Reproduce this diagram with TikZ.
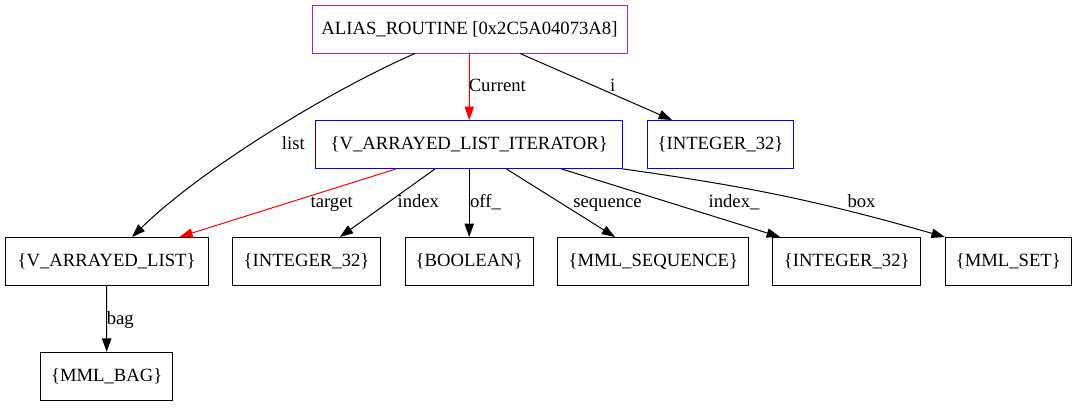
\documentclass[tikz,border=0pt]{standalone}
\usepackage{fontspec}
\setmainfont{Liberation Serif}
\usetikzlibrary{arrows.meta}
\definecolor{gvpurple}{HTML}{A020F0}

\begin{document}
\begin{tikzpicture}[x=0.75pt,y=-0.75pt,
    font=\fontsize{14pt}{16pt}\selectfont,
    cls/.style={draw,line width=0.75pt,minimum height=36pt,inner sep=0pt},
    edge/.style={line width=0.75pt,-{Triangle[length=10pt,width=7pt]}},
    lbl/.style={anchor=base,inner sep=0pt}]
  \useasboundingbox (0,0) rectangle (1077,407);

  \node [cls,color=gvpurple,text=black,minimum width=236.25pt] (alias) at (469.5,29) {ALIAS\_ROUTINE [0x2C5A04073A8]};
  \node [cls,color=blue,text=black,minimum width=230.25pt] (iter) at (469.2,144.5) {\{V\_ARRAYED\_LIST\_ITERATOR\}};
  \node [cls,color=blue,text=black,minimum width=109.5pt] (inti) at (720.5,144.5) {\{INTEGER\_32\}};

  \node [cls,minimum width=152.25pt] (vlist) at (106.6,261.5) {\{V\_ARRAYED\_LIST\}};
  \node [cls,minimum width=111pt] (intidx) at (306.5,261.5) {\{INTEGER\_32\}};
  \node [cls,minimum width=96pt] (bool) at (469.2,261.5) {\{BOOLEAN\}};
  \node [cls,minimum width=143.25pt] (seq) at (653.3,261.5) {\{MML\_SEQUENCE\}};
  \node [cls,minimum width=111pt] (intidxb) at (846.7,261.5) {\{INTEGER\_32\}};
  \node [cls,minimum width=94.5pt] (set) at (1008.3,261.5) {\{MML\_SET\}};
  \node [cls,minimum width=99pt] (bag) at (106.7,376.3) {\{MML\_BAG\}};

  % edges from the routine
  \draw [edge] ([xshift=-40.9pt]alias.south) .. controls +(-85,37) and +(68,-67) .. ([xshift=19.1pt]vlist.north)
    node [lbl,at={(293.3,149)}] {list};
  \draw [edge,color=red] (alias.south) -- (iter.north)
    node [lbl,text=black,at={(497.3,91.7)}] {Current};
  \draw [edge] ([xshift=37.9pt]alias.south) -- ([xshift=-36.4pt]inti.north)
    node [lbl,at={(612.7,91.7)}] {i};

  % edges from the iterator
  \draw [edge,color=red] ([xshift=-55pt]iter.south) -- ([xshift=54.6pt]vlist.north)
    node [lbl,text=black,at={(331.7,207.7)}] {target};
  \draw [edge] ([xshift=-25.7pt]iter.south) -- ([xshift=25pt]intidx.north)
    node [lbl,at={(418.3,207.7)}] {index};
  \draw [edge] (iter.south) -- (bool.north)
    node [lbl,at={(485.5,207.7)}] {off\_};
  \draw [edge] ([xshift=28pt]iter.south) -- ([xshift=-28.7pt]seq.north)
    node [lbl,at={(607.5,207.7)}] {sequence};
  \draw [edge] ([xshift=69.4pt]iter.south) -- ([xshift=-50pt]intidxb.north)
    node [lbl,at={(734,207.7)}] {index\_};
  \draw [edge] (iter.south east) to [bend left=4] (set.north west)
    node [lbl,at={(861.5,207.7)}] {box};

  \draw [edge] (vlist.south) -- (bag.north)
    node [lbl,at={(120.3,324.3)}] {bag};
\end{tikzpicture}
\end{document}
